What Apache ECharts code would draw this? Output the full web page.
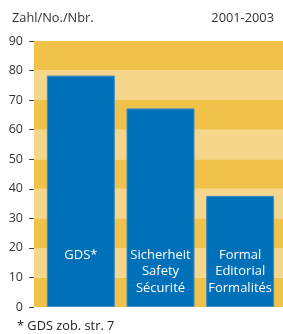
<!DOCTYPE html>
<html>
<head>
<meta charset="utf-8">
<script src="https://cdn.jsdelivr.net/npm/echarts@6/dist/echarts.min.js"></script>
<style>
  html, body { margin: 0; padding: 0; background: #fff; }
  #chart { width: 283px; height: 334px; }
</style>
</head>
<body>
<div id="chart"></div>
<script>
const categories = ['GDS*', 'Sicherheit\nSafety\nSécurité', 'Formal\nEditorial\nFormalités']
const values = [78.3, 67.2, 37.6]
const yTicks = { min: 0, max: 90, interval: 10 }

const chart = echarts.init(document.getElementById('chart'))
const font = 'Open Sans'

const option = {
  animation: false,
  backgroundColor: '#fff',
  title: [
    { text: 'Zahl/No./Nbr.', left: 7, top: 7, textStyle: { fontFamily: font, fontSize: 12.8, fontWeight: 'normal', color: '#333' } },
    { text: '2001-2003', right: 4, top: 7, textStyle: { fontFamily: font, fontSize: 12.8, fontWeight: 'normal', color: '#333' } },
    { text: '* GDS zob. str. 7', left: 12, top: 315, textStyle: { fontFamily: font, fontSize: 12.8, fontWeight: 'normal', color: '#222' } }
  ],
  grid: [
    { left: 34, right: 0, top: 41, bottom: 27 },
    { left: 41, right: 3, top: 41, bottom: 27 }
  ],
  xAxis: [
    { gridIndex: 0, type: 'category', data: categories, show: false },
    {
      gridIndex: 1, type: 'category', data: categories, z: 10,
      axisLine: { show: false }, axisTick: { show: false },
      axisLabel: {
        inside: true, margin: 60, verticalAlign: 'top', color: '#fff',
        fontFamily: font, fontSize: 13, lineHeight: 16.5, interval: 0
      }
    }
  ],
  yAxis: [
    {
      gridIndex: 0, type: 'value', min: yTicks.min, max: yTicks.max, interval: yTicks.interval,
      axisLine: { show: false },
      axisTick: { show: true, length: 5, lineStyle: { color: '#444' } },
      axisLabel: { margin: 11, color: '#333', fontFamily: font, fontSize: 12.5 },
      splitLine: { show: false },
      splitArea: { show: true, areaStyle: { color: ['#f1c24a', '#f6d68b'] } }
    },
    {
      gridIndex: 1, type: 'value', min: yTicks.min, max: yTicks.max, interval: yTicks.interval,
      show: false, splitLine: { show: false }
    }
  ],
  series: [{
    type: 'bar',
    xAxisIndex: 1,
    yAxisIndex: 1,
    data: values,
    barWidth: 68,
    itemStyle: { color: '#0070b8', borderColor: '#3e8ec6', borderWidth: 1 }
  }]
}

chart.setOption(option)
</script>
</body>
</html>
